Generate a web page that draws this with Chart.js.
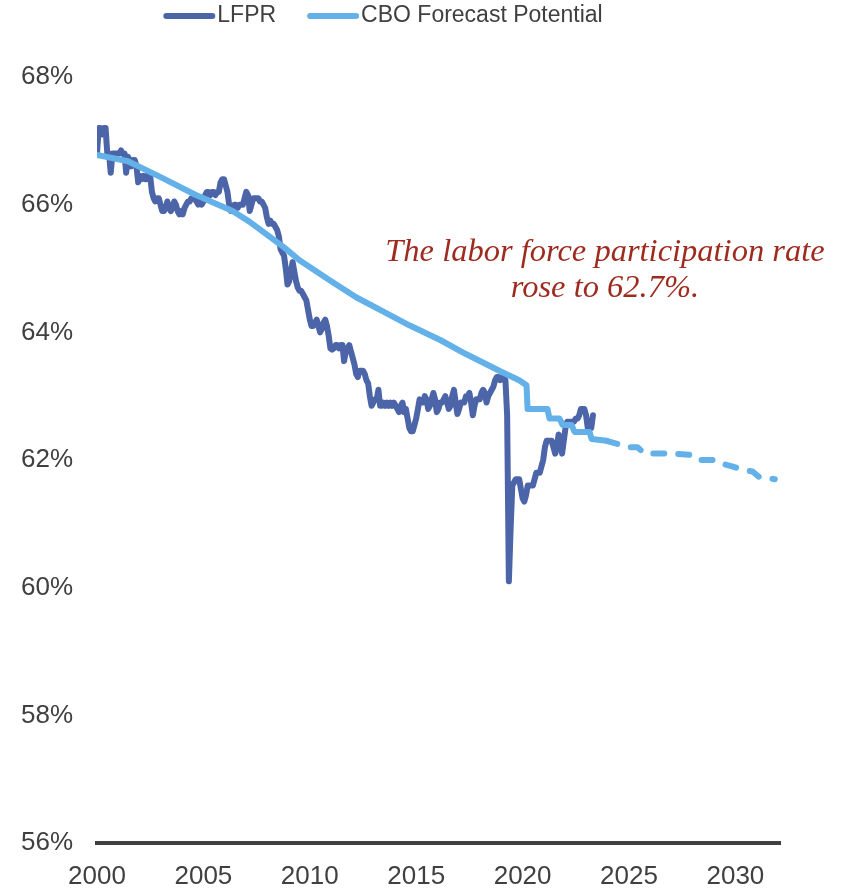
<!DOCTYPE html>
<html>
<head>
<meta charset="utf-8">
<script src="https://cdn.jsdelivr.net/npm/chart.js@4.4.1/dist/chart.umd.min.js"></script>
<style>
  html, body { margin: 0; padding: 0; background: #fff; overflow: hidden; }
  #wrap { width: 844px; height: 889px; }
</style>
</head>
<body>
<div id="wrap"><canvas id="chart" width="844" height="889"></canvas></div>
<script>
// months counted from the first LFPR observation (start of 2000)
var tickMonths = [0, 62, 124, 186, 248, 310, 372];
var tickLabels = ['2000', '2005', '2010', '2015', '2020', '2025', '2030'];
var yTicks = [56, 58, 60, 62, 64, 66, 68];

// labor force participation rate, monthly, %
var lfpr = [
  66.8, 67.2, 67.2, 67.1, 67.2, 67.2, 66.8, 66.8, 66.5, 66.8, 66.8, 66.8,     // 2000
  66.8, 66.8, 66.85, 66.8, 66.8, 66.5, 66.75, 66.7, 66.6, 66.7, 66.7, 66.6,   // 2001
  66.35, 66.45, 66.4, 66.45, 66.4, 66.4, 66.5, 66.45, 66.2, 66.1, 66.05, 66.1,// 2002
  66.1, 66.0, 65.9, 65.9, 65.95, 66.05, 65.95, 65.9, 65.95, 66.05, 66.0, 65.9,// 2003
  65.85, 65.9, 65.85, 65.95, 66.0, 66.05, 66.05, 66.1, 66.1, 66.1, 66.05, 66.0,
  66.1, 66.0, 66.05, 66.15, 66.2, 66.2, 66.15, 66.2, 66.2, 66.15, 66.2, 66.2, // 2005
  66.35, 66.4, 66.4, 66.3, 66.2, 66.0, 65.9, 65.95, 66.0, 66.0, 65.95, 66.0,
  66.0, 66.0, 66.1, 66.2, 66.15, 65.9, 66.0, 66.1, 66.1, 66.1, 66.1, 66.05,
  66.05, 66.0, 65.95, 65.8, 65.7, 65.75, 65.7, 65.7, 65.65, 65.6, 65.5, 65.3,
  65.25, 65.2, 65.0, 64.75, 64.8, 64.95, 65.1, 64.95, 64.8, 64.7, 64.65, 64.65,
  64.6, 64.55, 64.5, 64.35, 64.2, 64.1, 64.1, 64.15, 64.2, 64.1, 64.0, 64.05, // 2010
  64.15, 64.2, 64.1, 63.95, 63.75, 63.73, 63.75, 63.8, 63.8, 63.75, 63.8, 63.8,
  63.55, 63.7, 63.75, 63.8, 63.7, 63.6, 63.5, 63.35, 63.3, 63.4, 63.4, 63.4,
  63.35, 63.25, 63.2, 63.0, 62.85, 62.9, 62.95, 62.95, 63.1, 62.85, 62.85, 62.9,
  62.85, 62.9, 62.85, 62.9, 62.85, 62.9, 62.85, 62.8, 62.75, 62.85, 62.9, 62.75,
  62.8, 62.65, 62.5, 62.45, 62.45, 62.55, 62.65, 62.8, 62.95, 62.9, 62.9, 63.0, // 2015
  62.95, 62.8, 62.85, 62.95, 63.05, 62.95, 62.75, 62.8, 62.9, 62.9, 62.95, 63.0,
  62.9, 62.8, 62.85, 63.0, 63.1, 62.9, 62.72, 62.8, 62.9, 62.9, 62.9, 63.0,
  63.0, 63.05, 62.9, 62.7, 62.85, 62.95, 62.95, 62.95, 63.05, 63.1, 63.05, 62.9,
  63.0, 63.05, 63.1, 63.15, 63.25, 63.3, 63.3, 63.25, 63.3, 63.3, 63.25, 62.7,
  60.1, 60.9, 61.6, 61.65, 61.7, 61.7, 61.7, 61.55, 61.4, 61.35, 61.45, 61.6,   // 2020
  61.6, 61.6, 61.6, 61.7, 61.8, 61.8, 61.8, 61.9, 62.0, 62.2, 62.3, 62.3,
  62.3, 62.3, 62.2, 62.1, 62.2, 62.4, 62.3, 62.1, 62.3, 62.5, 62.6, 62.6,
  62.6, 62.6, 62.6, 62.65, 62.65, 62.7, 62.8, 62.8, 62.8, 62.7, 62.5, 62.5,
  62.5, 62.7
];

// CBO potential participation rate; dashed from forecastFrom on
var cboMonth = [0, 18, 38, 57, 79, 89, 99, 109, 118, 136, 151, 168, 182, 200, 215, 235, 246, 250.3,
  250.9, 262.5, 263.7, 269.5, 271.3, 276.5, 278.3, 287, 288.2, 297,
  310, 315, 319, 335, 347, 351, 360, 364.5, 370, 376, 382, 386, 395];
var cboValue = [66.78, 66.68, 66.42, 66.16, 65.9, 65.73, 65.53, 65.33, 65.13, 64.81, 64.55, 64.31, 64.11, 63.88, 63.66, 63.39, 63.25, 63.17,
  62.8, 62.8, 62.65, 62.65, 62.55, 62.55, 62.44, 62.44, 62.33, 62.3,
  62.2, 62.2, 62.1, 62.1, 62.08, 62.0, 62.0, 61.94, 61.9, 61.85, 61.82, 61.73, 61.7];
var forecastFrom = 297;

var noteLines = ['The labor force participation rate', 'rose to 62.7%.'];
var noteMonth = 296;
var noteValue = [65.25, 64.69];

function hasFont(name) {
  var c = document.createElement('canvas').getContext('2d');
  c.font = '40px monospace';
  var a = c.measureText('2000 LFPR%').width;
  c.font = '40px "' + name + '", monospace';
  return c.measureText('2000 LFPR%').width !== a;
}

var narrow = hasFont('Liberation Sans Narrow');
var sansFamily = narrow ? '"Liberation Sans Narrow", "Liberation Sans", Arial, sans-serif' : '"Liberation Sans", Arial, sans-serif';
var tickSize = narrow ? 31 : 26;
var legendSize = narrow ? 28 : 23;
var textColor = '#404040';

var legendItems = {
  id: 'legendItems',
  afterDraw: function(chart) {
    var ctx = chart.ctx;
    var sets = chart.data.datasets;
    ctx.save();
    ctx.font = legendSize + 'px ' + sansFamily;
    var sample = 52, gap = 2, between = 31;
    var total = 0;
    sets.forEach(function(ds, i) {
      total += sample + gap + ctx.measureText(ds.label).width + (i ? between : 0);
    });
    var x = 383 - total / 2, y = 16;
    sets.forEach(function(ds) {
      ctx.strokeStyle = ds.borderColor;
      ctx.lineWidth = 6;
      ctx.lineCap = 'round';
      ctx.beginPath();
      ctx.moveTo(x + 3, y);
      ctx.lineTo(x + sample - 3, y);
      ctx.stroke();
      ctx.fillStyle = textColor;
      ctx.textBaseline = 'middle';
      ctx.textAlign = 'left';
      ctx.fillText(ds.label, x + sample + gap, y);
      x += sample + gap + ctx.measureText(ds.label).width + between;
    });
    ctx.restore();
  }
};

var note = {
  id: 'note',
  afterDraw: function(chart) {
    var ctx = chart.ctx;
    var xs = chart.scales.x, ys = chart.scales.y;
    ctx.save();
    ctx.font = 'italic 32.5px "Liberation Serif", "Times New Roman", serif';
    ctx.fillStyle = '#9E2B1F';
    ctx.textAlign = 'center';
    ctx.textBaseline = 'middle';
    noteLines.forEach(function(t, i) {
      ctx.fillText(t, xs.getPixelForValue(noteMonth), ys.getPixelForValue(noteValue[i]));
    });
    ctx.restore();
  }
};

new Chart(document.getElementById('chart'), {
  type: 'line',
  data: {
    datasets: [
      {
        label: 'LFPR',
        data: lfpr.map(function(v, i) { return { x: i, y: v }; }),
        borderColor: '#4C65A9',
        borderWidth: 6,
        borderJoinStyle: 'round',
        borderCapStyle: 'round',
        pointRadius: 0,
        order: 1,
      },
      {
        label: 'CBO Forecast Potential',
        data: cboMonth.map(function(m, i) { return { x: m, y: cboValue[i] }; }),
        borderColor: '#63B1E8',
        borderWidth: 6,
        borderJoinStyle: 'round',
        borderCapStyle: 'round',
        pointRadius: 0,
        order: 0,
        segment: {
          borderDash: function(ctx) { return ctx.p0.parsed.x >= forecastFrom ? [11, 14] : undefined; },
        },
      },
    ],
  },
  options: {
    responsive: false,
    animation: false,
    devicePixelRatio: 1,
    layout: { padding: { top: 77, right: 64, bottom: 0, left: 0 } },
    plugins: {
      legend: { display: false },
      tooltip: { enabled: false },
    },
    scales: {
      x: {
        type: 'linear',
        min: 0,
        max: 398,
        afterBuildTicks: function(s) { s.ticks = tickMonths.map(function(v) { return { value: v }; }); },
        afterFit: function(s) { s.height = 46; },
        ticks: {
          autoSkip: false,
          maxRotation: 0,
          color: textColor,
          font: { family: sansFamily, size: tickSize },
          padding: Math.round(34 - tickSize * 0.6),
          callback: function(v) { return tickLabels[tickMonths.indexOf(v)]; },
        },
        grid: { display: false, drawTicks: false },
        border: { display: true, color: textColor, width: 4 },
      },
      y: {
        min: 56,
        max: 68,
        afterBuildTicks: function(s) { s.ticks = yTicks.map(function(v) { return { value: v }; }); },
        afterFit: function(s) { s.width = 97; },
        ticks: {
          color: textColor,
          font: { family: sansFamily, size: tickSize },
          padding: 24,
          callback: function(v) { return v + '%'; },
        },
        grid: { display: false, drawTicks: false },
        border: { display: false },
      },
    },
  },
  plugins: [legendItems, note],
});
</script>
</body>
</html>
